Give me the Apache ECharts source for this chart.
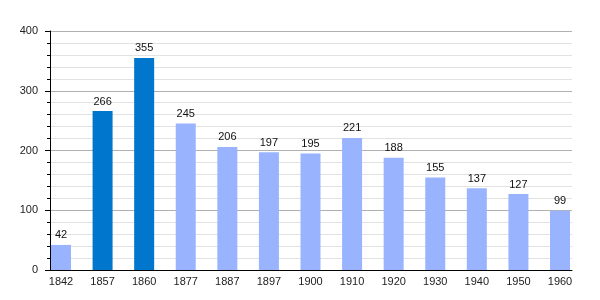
<!DOCTYPE html>
<html><head><meta charset="utf-8">
<script src="https://cdn.jsdelivr.net/npm/echarts@6/dist/echarts.min.js"></script>
<style>html,body{margin:0;padding:0;background:#fff}#c{width:600px;height:300px}</style>
</head><body><div id="c"></div>
<script>
const years = ['1842','1857','1860','1877','1887','1897','1900','1910','1920','1930','1940','1950','1960'];
const population = [42,266,355,245,206,197,195,221,188,155,137,127,99];
const highlighted = ['1857','1860'];
const yTicks = {min:0, max:400, interval:100};

const LIGHT = '#99b3ff', DARK = '#0077cc';
const font = 'Liberation Sans, Arial, sans-serif';
const chart = echarts.init(document.getElementById('c'), null, {renderer:'canvas'});
chart.setOption({
  animation:false,
  grid:[
    {left:50, right:28, top:31, bottom:30},
    {left:61, right:40, top:31, bottom:30}
  ],
  xAxis:[
    {gridIndex:0, type:'category', data:[''], axisLine:{show:true, lineStyle:{color:'#000', width:1}}, axisTick:{show:false}, axisLabel:{show:false}},
    {gridIndex:1, type:'category', data:years, boundaryGap:false, axisLine:{show:false}, axisTick:{show:false},
     axisLabel:{color:'#222', fontSize:11, fontFamily:font, margin:6}}
  ],
  yAxis:[
    {gridIndex:0, type:'value', min:yTicks.min, max:yTicks.max, interval:yTicks.interval,
     axisLine:{show:true, lineStyle:{color:'#000'}},
     axisTick:{show:true, length:5, lineStyle:{color:'#000'}},
     minorTick:{show:true, splitNumber:5, length:3, lineStyle:{color:'#000'}},
     axisLabel:{color:'#222', fontSize:11, fontFamily:font, margin:12},
     splitLine:{show:true, lineStyle:{color:'#b0b0b0', width:1}},
     minorSplitLine:{show:true, lineStyle:{color:'#e2e2e2', width:1}}},
    {gridIndex:1, type:'value', min:yTicks.min, max:yTicks.max, show:false}
  ],
  series:[{
    type:'bar', xAxisIndex:1, yAxisIndex:1, barWidth:20,
    data: population.map((v,i)=>({value:v, itemStyle:{color: highlighted.includes(years[i]) ? DARK : LIGHT}})),
    label:{show:true, position:'top', color:'#111', fontSize:11, fontFamily:font, distance:4}
  }]
});
</script></body></html>
